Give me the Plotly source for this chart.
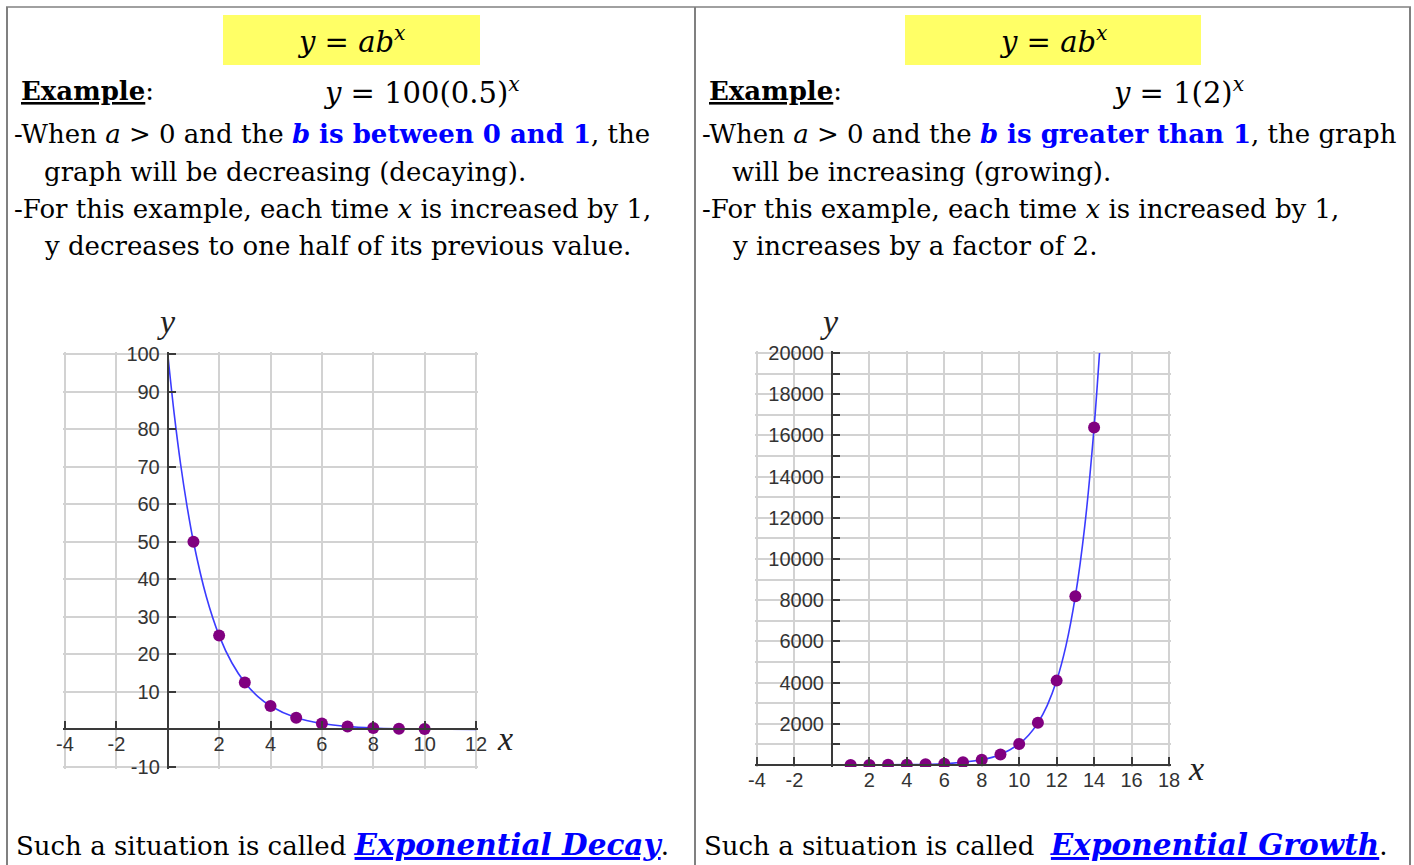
import plotly.graph_objects as go

W, H = 1414, 865

# ---------------- data ----------------
decay_x = [1, 2, 3, 4, 5, 6, 7, 8, 9, 10]
decay_y = [50, 25, 12.5, 6.25, 3.125, 1.5625, 0.78, 0.39, 0.2, 0.1]
decay_curve_x = [0, 0.25, 0.5, 0.75, 1, 1.5, 2, 2.5, 3, 3.5, 4, 5, 6, 7, 8, 9, 10, 11, 12]
decay_curve_y = [100, 84.1, 70.7, 59.5, 50, 35.4, 25, 17.7, 12.5, 8.8, 6.25, 3.1, 1.6, 0.8, 0.4, 0.2, 0.1, 0.05, 0.02]

growth_x = [1, 2, 3, 4, 5, 6, 7, 8, 9, 10, 11, 12, 13, 14]
growth_y = [2, 4, 8, 16, 32, 64, 128, 256, 512, 1024, 2048, 4096, 8192, 16384]
growth_curve_x = [-4, -2, 0, 2, 4, 6, 8, 9, 10, 10.5, 11, 11.5, 12, 12.5, 13, 13.5, 14, 14.29]
growth_curve_y = [0.06, 0.25, 1, 4, 16, 64, 256, 512, 1024, 1448, 2048, 2896, 4096, 5793, 8192, 11585, 16384, 20000]

decay_xticks = [-4, -2, 2, 4, 6, 8, 10, 12]
decay_yticks = [-10, 10, 20, 30, 40, 50, 60, 70, 80, 90, 100]
growth_xticks = [-4, -2, 2, 4, 6, 8, 10, 12, 14, 16, 18]
growth_yticks = [2000, 4000, 6000, 8000, 10000, 12000, 14000, 16000, 18000, 20000]
growth_yminor = [1000, 3000, 5000, 7000, 9000, 11000, 13000, 15000, 17000, 19000]

# ---------------- helpers ----------------
def px(x):
    return x / W

def py(y):
    return 1 - y / H

SERIF = "DejaVu Serif"
SANS = "Liberation Sans"
BLUE = "#0000ff"
GRID = "#d2d2d2"
AX = "#3a3a3a"
PAD = 2  # px of breathing room so edge gridlines are drawn

# plot rectangles in pixels
L = dict(x0=65, x1=476, y0=354, y1=767, xr=(-4, 12), yr=(-10, 100))
R = dict(x0=757, x1=1169, y0=353, y1=765, xr=(-4, 18), yr=(0, 20000))

def padded(r):
    kx = (r["xr"][1] - r["xr"][0]) / (r["x1"] - r["x0"])
    ky = (r["yr"][1] - r["yr"][0]) / (r["y1"] - r["y0"])
    xr = [r["xr"][0] - PAD * kx, r["xr"][1] + PAD * kx]
    yr = [r["yr"][0] - PAD * ky, r["yr"][1] + PAD * ky]
    xd = [px(r["x0"] - PAD), px(r["x1"] + PAD)]
    yd = [py(r["y1"] + PAD), py(r["y0"] - PAD)]
    return xd, yd, xr, yr

def zero_pos(xd, yd, xr, yr):
    xpos = xd[0] + (0 - xr[0]) / (xr[1] - xr[0]) * (xd[1] - xd[0])
    ypos = yd[0] + (0 - yr[0]) / (yr[1] - yr[0]) * (yd[1] - yd[0])
    return xpos, ypos

fig = go.Figure()

fig.add_trace(go.Scatter(x=decay_curve_x, y=decay_curve_y, mode="lines",
                         line=dict(color="#3b3bff", width=1.6, shape="spline", smoothing=0.8),
                         xaxis="x", yaxis="y", hoverinfo="skip"))
fig.add_trace(go.Scatter(x=decay_x, y=decay_y, mode="markers",
                         marker=dict(color="#800080", size=12),
                         xaxis="x", yaxis="y"))
fig.add_trace(go.Scatter(x=growth_curve_x, y=growth_curve_y, mode="lines",
                         line=dict(color="#3b3bff", width=1.6, shape="spline", smoothing=0.8),
                         xaxis="x2", yaxis="y2", hoverinfo="skip"))
fig.add_trace(go.Scatter(x=growth_x, y=growth_y, mode="markers",
                         marker=dict(color="#800080", size=12),
                         xaxis="x2", yaxis="y2"))

tickfont = dict(family=SANS, size=20, color="#333333")

def axes(r, xticks, yticks, yminor=None):
    xd, yd, xr, yr = padded(r)
    xpos, ypos = zero_pos(xd, yd, xr, yr)
    common = dict(showgrid=True, gridcolor=GRID, gridwidth=1.5, zeroline=False,
                  showline=True, linecolor=AX, linewidth=2, ticks="inside",
                  ticklen=7, tickwidth=2, tickcolor=AX, tickfont=tickfont,
                  tickmode="array", fixedrange=True, automargin=False)
    xa = dict(common, domain=xd, range=xr, anchor="free", position=ypos,
              tickvals=xticks, ticktext=[str(v) for v in xticks], ticklabelstandoff=-3)
    ya = dict(common, domain=yd, range=yr, anchor="free", position=xpos,
              tickvals=yticks, ticklabelstandoff=3,
              ticktext=[str(v) for v in yticks])
    if yminor is not None:
        ya["minor"] = dict(tickmode="array", tickvals=yminor, ticks="inside", ticklen=7,
                           tickwidth=2, tickcolor=AX, showgrid=True, gridcolor=GRID, gridwidth=1.5)
    return xa, ya

xa1, ya1 = axes(L, decay_xticks, decay_yticks)
xa2, ya2 = axes(R, growth_xticks, growth_yticks, growth_yminor)

shapes = []
# table borders
bc = "#808080"
shapes.append(dict(type="line", xref="paper", yref="paper", x0=px(6), x1=px(1411), y0=py(7), y1=py(7),
                   line=dict(color=bc, width=1.5)))
for xx in (7, 695, 1410):
    shapes.append(dict(type="line", xref="paper", yref="paper", x0=px(xx), x1=px(xx), y0=py(7), y1=py(866),
                       line=dict(color=bc, width=2)))
# yellow boxes
for (a, b) in ((223, 480), (905, 1201)):
    shapes.append(dict(type="rect", xref="paper", yref="paper", x0=px(a), x1=px(b), y0=py(65), y1=py(15),
                       fillcolor="#ffff66", line=dict(width=0), layer="below"))

ann = []

def text(x, y, s, size=26, xanchor="left", family=SERIF, color="black"):
    ann.append(dict(x=px(x), y=py(y), xref="paper", yref="paper", text=s, showarrow=False,
                    xanchor=xanchor, yanchor="middle", align="left",
                    font=dict(family=family, size=size, color=color)))

def blue(s):
    return f'<span style="color:{BLUE}"><b>{s}</b></span>'

# left column
text(351, 40, "<i>y</i> = <i>ab</i><sup><i>x</i></sup>", size=29, xanchor="center")
text(19, 91, "<b><u>Example</u></b>:", size=26)
text(422, 91, "<i>y</i> = 100(0.5)<sup><i>x</i></sup>", size=29, xanchor="center")
text(12, 134, "-When <i>a</i> &gt; 0 and the " + blue("<i>b</i> is between 0 and 1") + ", the")
text(42, 172, "graph will be decreasing (decaying).")
text(12, 209, "-For this example, each time <i>x</i> is increased by 1,")
text(42, 246, "y decreases to one half of its previous value.")
text(14, 844, 'Such a situation is called <span style="color:%s;font-size:29.5px"><b><i><u>Exponential Decay</u></i></b></span>.' % BLUE, size=26)

# right column
text(1053, 40, "<i>y</i> = <i>ab</i><sup><i>x</i></sup>", size=29, xanchor="center")
text(707, 91, "<b><u>Example</u></b>:", size=26)
text(1178, 91, "<i>y</i> = 1(2)<sup><i>x</i></sup>", size=29, xanchor="center")
text(700, 134, "-When <i>a</i> &gt; 0 and the " + blue("<i>b</i> is greater than 1") + ", the graph")
text(730, 172, "will be increasing (growing).")
text(700, 209, "-For this example, each time <i>x</i> is increased by 1,")
text(730, 246, "y increases by a factor of 2.")
text(702, 844, 'Such a situation is called  <span style="color:%s;font-size:29.5px"><b><i><u>Exponential Growth</u></i></b></span>.' % BLUE, size=26)

# axis letters
for (x, y) in ((166, 322), (829, 322)):
    text(x, y, "<i>y</i>", size=34, xanchor="center", family="Liberation Serif", color="#222")
for (x, y) in ((505, 738), (1196, 768)):
    text(x, y, "<i>x</i>", size=34, xanchor="center", family="Liberation Serif", color="#222")

fig.update_layout(
    width=W, height=H, margin=dict(l=0, r=0, t=0, b=0, pad=0, autoexpand=False),
    paper_bgcolor="white", plot_bgcolor="white", showlegend=False,
    xaxis=xa1, yaxis=ya1, xaxis2=xa2, yaxis2=ya2,
    shapes=shapes, annotations=ann,
)

fig.write_html("out.html", config={"displayModeBar": False},
               post_script="document.body.style.margin='0px';")
